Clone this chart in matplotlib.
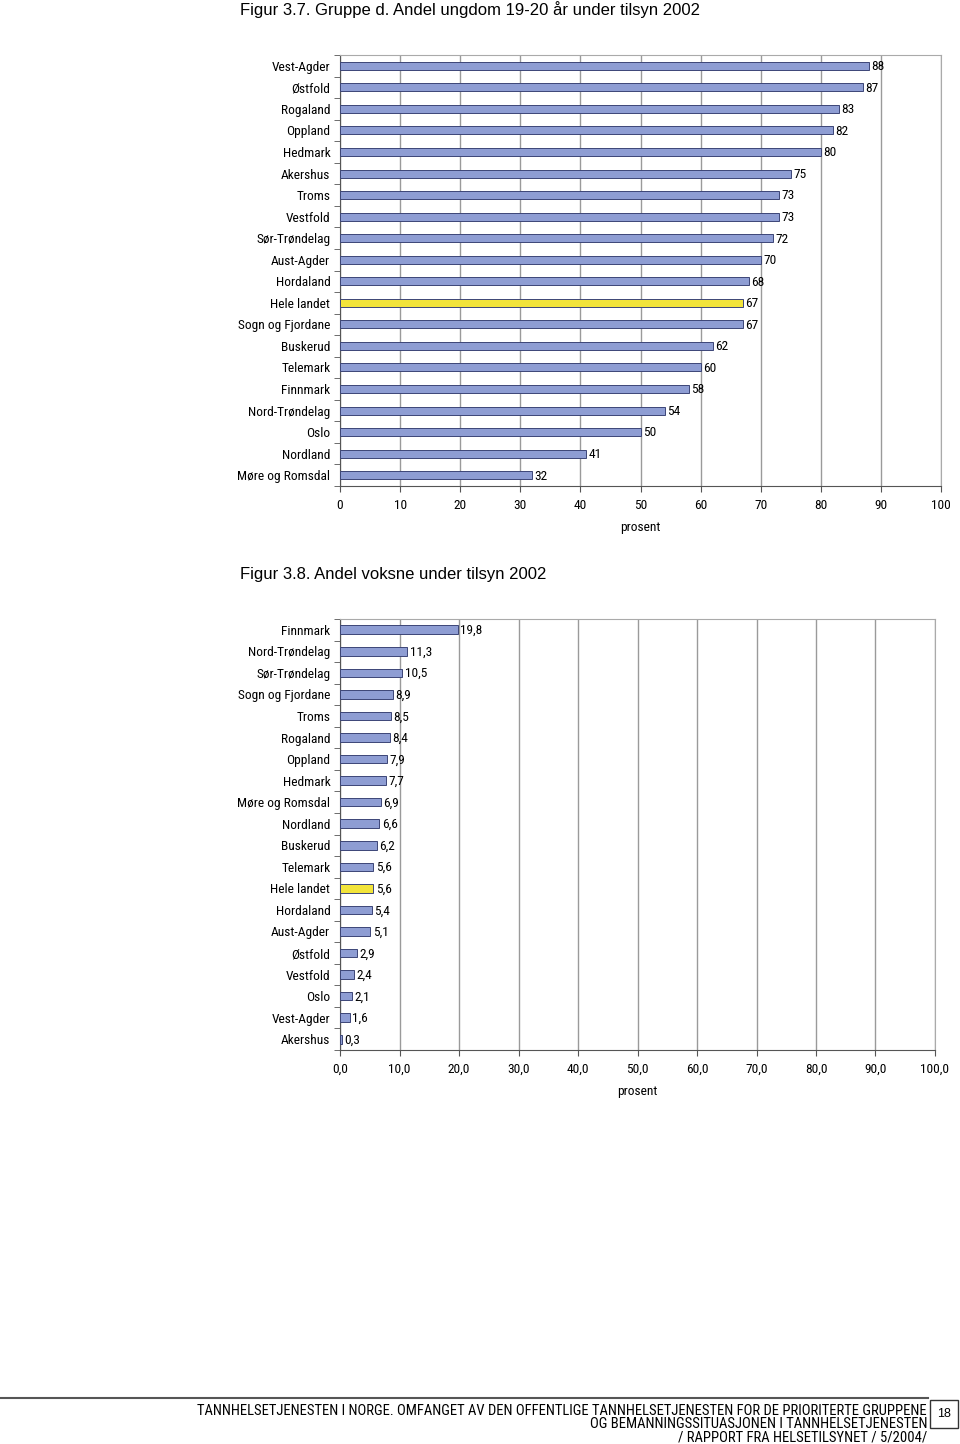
import numpy as np
import matplotlib.pyplot as plt
import matplotlib.transforms as mtransforms
from matplotlib.patches import Rectangle
from matplotlib.lines import Line2D

plt.rcParams['font.family'] = ['Liberation Sans Narrow', 'Roboto Condensed', 'DejaVu Sans Condensed',
                               'Liberation Sans', 'DejaVu Sans']

# Figur 3.7 - ungdom 19-20 år
youth_labels = ['Vest-Agder', 'Østfold', 'Rogaland', 'Oppland', 'Hedmark', 'Akershus',
                'Troms', 'Vestfold', 'Sør-Trøndelag', 'Aust-Agder', 'Hordaland',
                'Hele landet', 'Sogn og Fjordane', 'Buskerud', 'Telemark', 'Finnmark',
                'Nord-Trøndelag', 'Oslo', 'Nordland', 'Møre og Romsdal']
youth_values = [88, 87, 83, 82, 80, 75, 73, 73, 72, 70, 68, 67, 67, 62, 60, 58, 54, 50, 41, 32]

# Figur 3.8 - voksne
adult_labels = ['Finnmark', 'Nord-Trøndelag', 'Sør-Trøndelag', 'Sogn og Fjordane', 'Troms',
                'Rogaland', 'Oppland', 'Hedmark', 'Møre og Romsdal', 'Nordland', 'Buskerud',
                'Telemark', 'Hele landet', 'Hordaland', 'Aust-Agder', 'Østfold', 'Vestfold',
                'Oslo', 'Vest-Agder', 'Akershus']
adult_values = [19.8, 11.3, 10.5, 8.9, 8.5, 8.4, 7.9, 7.7, 6.9, 6.6, 6.2, 5.6, 5.6, 5.4,
                5.1, 2.9, 2.4, 2.1, 1.6, 0.3]

xticks = np.arange(0, 101, 10)

W, H = 960, 1444
BAR = '#8e9dd3'
EDGE = '#3c4577'
HIGHLIGHT = '#f2e43a'
GRID = '#9a9a9a'
FS = 9.6


def px(x, y):
    return x / W, 1 - y / H


def draw_chart(fig, ax, labels, values, bar_h, fmt, tick_fmt):
    pos = np.arange(len(labels))
    colors = [HIGHLIGHT if l == 'Hele landet' else BAR for l in labels]
    ax.barh(pos, values, height=bar_h, color=colors, edgecolor=EDGE, linewidth=0.7, zorder=3)
    for p, v in zip(pos, values):
        ax.text(v + 0.4, p + 0.04, fmt(v), va='center', ha='left', fontsize=FS, zorder=4)
    ax.set_xlim(0, 100)
    ax.set_ylim(len(labels) - 0.5, -0.5)
    ax.set_yticks(pos)
    ax.set_yticklabels(labels, fontsize=FS)
    up = mtransforms.ScaledTranslation(0, 2 / 100, fig.dpi_scale_trans)
    for lab in ax.get_yticklabels():
        lab.set_transform(lab.get_transform() + up)
    ax.set_yticks(np.arange(-0.5, len(labels), 1), minor=True)
    ax.tick_params(axis='y', which='major', length=0, pad=7)
    ax.tick_params(axis='y', which='minor', length=4, color='#555555')
    ax.set_xticks(xticks)
    ax.set_xticklabels([tick_fmt(t) for t in xticks], fontsize=FS)
    ax.tick_params(axis='x', length=4, color='#555555', pad=5.5)
    ax.set_xlabel('prosent', fontsize=FS, labelpad=6.5)
    ax.grid(axis='x', color=GRID, linewidth=1, zorder=0)
    for s in ['top', 'right']:
        ax.spines[s].set_color('#aaaaaa')
    for s in ['left', 'bottom']:
        ax.spines[s].set_color('#555555')


fig = plt.figure(figsize=(9.6, 14.44), dpi=100)

ax1 = fig.add_axes([340 / W, 1 - 486 / H, 601 / W, 431 / H])
draw_chart(fig, ax1, youth_labels, youth_values, 0.37, lambda v: f'{v:d}', lambda t: f'{t:d}')

ax2 = fig.add_axes([340 / W, 1 - 1050 / H, 595 / W, 431 / H])
draw_chart(fig, ax2, adult_labels, adult_values, 0.4,
           lambda v: f'{v:.1f}'.replace('.', ','), lambda t: f'{t:.1f}'.replace('.', ','))

tfont = ['Liberation Sans', 'DejaVu Sans']
fig.text(*px(240, 10), 'Figur 3.7. Gruppe d. Andel ungdom 19-20 år under tilsyn 2002',
         fontsize=12, family=tfont, va='center', ha='left')
fig.text(*px(240, 574), 'Figur 3.8. Andel voksne under tilsyn 2002',
         fontsize=12, family=tfont, va='center', ha='left')

# footer
fig.add_artist(Line2D([0, 928 / W], [1 - 1398 / H] * 2, color='#555555', linewidth=1.5,
                      transform=fig.transFigure))
fig.add_artist(Rectangle(px(930, 1428), 28 / W, 28 / H, fill=False, edgecolor='#333333',
                         linewidth=1, transform=fig.transFigure))
fig.text(*px(944, 1414), '18', fontsize=9, family=tfont, ha='center', va='center')
footer = ['TANNHELSETJENESTEN I NORGE. OMFANGET AV DEN OFFENTLIGE TANNHELSETJENESTEN FOR DE PRIORITERTE GRUPPENE',
          'OG BEMANNINGSSITUASJONEN I TANNHELSETJENESTEN',
          '/ RAPPORT FRA HELSETILSYNET / 5/2004/']
for i, line in enumerate(footer):
    fig.text(*px(927, 1411 + 13.5 * i), line, fontsize=10.5, ha='right', va='center')

fig.savefig('out.png', dpi=100)
